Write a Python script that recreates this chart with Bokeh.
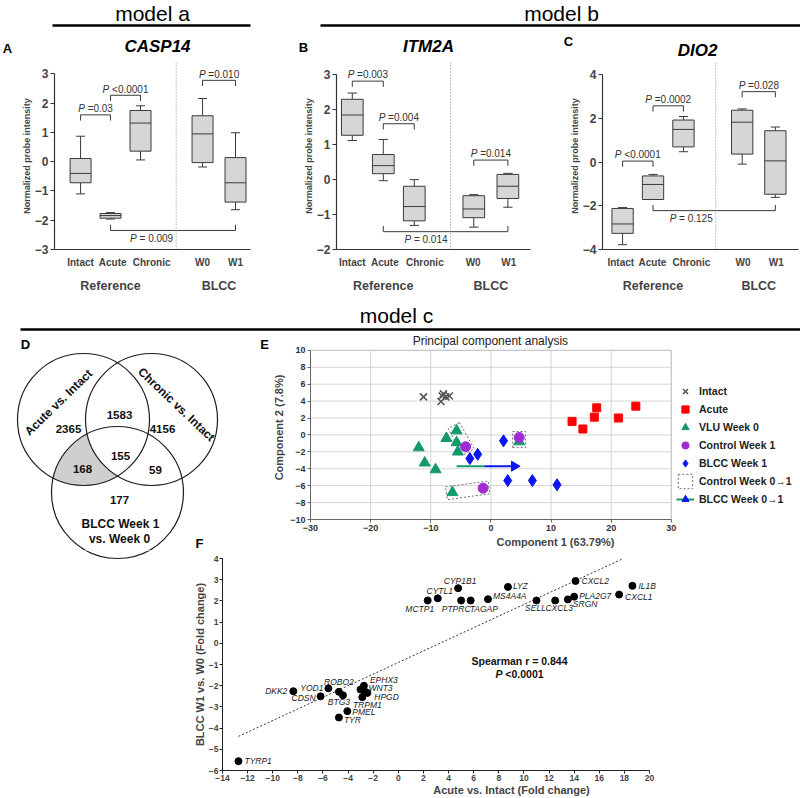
import numpy as np
from bokeh.plotting import figure
from bokeh.models import (Range1d, FixedTicker, LinearAxis, Label, Legend, LegendItem,
                          Span, ColumnDataSource)
from bokeh.layouts import column, row
from bokeh.transform import dodge
from bokeh.core.properties import value
from bokeh.embed import file_html
from bokeh.resources import INLINE

# ======================= DATA =======================
GROUPS = ["Intact", "Acute", "Chronic", "W0", "W1"]
GROUP_SETS = ["Reference", "BLCC"]

# box plot statistics: whisker low, Q1, median, Q3, whisker high
CASP14_LO = [-1.10, -1.96, 0.06, -0.18, -1.64]
CASP14_Q1 = [-0.72, -1.93, 0.36, -0.03, -1.38]
CASP14_MED = [-0.40, -1.84, 1.32, 0.95, -0.72]
CASP14_Q3 = [0.11, -1.77, 1.75, 1.57, 0.14]
CASP14_HI = [0.87, -1.74, 1.91, 2.16, 0.99]
CASP14_P_PAIRS = [(0, 1), (1, 2), (3, 4), (1, 4)]
CASP14_P_TEXT = ["=0.03", "<0.0001", "=0.010", "= 0.009"]
CASP14_P_LEVEL = [1.60, 2.27, 2.78, -2.35]

ITM2A_LO = [1.12, -0.03, -1.31, -1.36, -0.79]
ITM2A_Q1 = [1.27, 0.17, -1.18, -1.09, -0.54]
ITM2A_MED = [1.85, 0.40, -0.77, -0.84, -0.19]
ITM2A_Q3 = [2.30, 0.72, -0.19, -0.46, 0.15]
ITM2A_HI = [2.48, 1.15, 0.00, -0.43, 0.18]
ITM2A_P_PAIRS = [(0, 1), (1, 2), (3, 4), (1, 4)]
ITM2A_P_TEXT = ["=0.003", "=0.004", "=0.014", "= 0.014"]
ITM2A_P_LEVEL = [2.82, 1.60, 0.56, -1.49]

DIO2_LO = [-3.78, -1.71, 0.48, -0.09, -1.61]
DIO2_Q1 = [-3.26, -1.71, 0.70, 0.37, -1.47]
DIO2_MED = [-2.83, -1.02, 1.50, 1.83, 0.06]
DIO2_Q3 = [-2.12, -0.63, 1.93, 2.38, 1.44]
DIO2_HI = [-2.08, -0.56, 2.09, 2.44, 1.61]
DIO2_P_PAIRS = [(0, 1), (1, 2), (3, 4), (1, 4)]
DIO2_P_TEXT = ["<0.0001", "=0.0002", "=0.028", "= 0.125"]
DIO2_P_LEVEL = [0.05, 2.58, 3.23, -2.22]

# Venn counts
VENN_SETS = ["Acute vs. Intact", "Chronic vs. Intact", "BLCC Week 1", "vs. Week 0"]
VENN_REGIONS = ["A", "AC", "C", "ACB", "AB", "CB", "B"]
VENN_COUNTS = [2365, 1583, 4156, 155, 168, 59, 177]

# PCA
INTACT_PC1 = [-11.2, -8.1, -7.5, -6.9, -8.3, -7.9]
INTACT_PC2 = [4.5, 4.6, 4.5, 4.6, 3.95, 4.85]
ACUTE_PC1 = [13.5, 15.3, 17.2, 17.6, 21.2, 24.1]
ACUTE_PC2 = [1.6, 0.7, 2.1, 3.2, 2.0, 3.4]
VLU_PC1 = [-12.0, -11.0, -9.2, -7.4, -5.7, -5.7, -5.5, 4.7, -6.4]
VLU_PC2 = [-1.5, -3.3, -4.1, -0.4, 0.5, -0.9, -2.0, -0.8, -6.8]
CTRL_PC1 = [-4.2, 4.7, -1.3]
CTRL_PC2 = [-1.4, -0.3, -6.3]
BLCC_PC1 = [-3.5, -2.2, 2.1, 2.8, 6.9, 11.0]
BLCC_PC2 = [-2.8, -2.3, -0.7, -5.4, -5.4, -5.9]
CTRL_PAIRS = [(4, 0), (7, 1), (8, 2)]          # (VLU index, Control index)
BLCC_SHIFT_X = [-5.7, -1.1, 3.9]               # start, colour change, head
BLCC_SHIFT_Y = -3.7
PCA_XTICKS = [-30, -20, -10, 0, 10, 20, 30]
PCA_YTICKS = [-10, -8, -6, -4, -2, 0, 2, 4, 6, 8, 10]

# Fold-change correlation
GENES = ["TYRP1", "DKK2", "CDSN", "YOD1", "ROBO2", "BTG3", "PMEL", "TYR", "EPHX3", "WNT3",
         "HPGD", "TRPM1", "", "MCTP1", "CYTL1", "CYP1B1", "PTPRC", "TAGAP", "MS4A4A", "LYZ",
         "SELL", "CXCL3", "SRGN", "PLA2G7", "CXCL2", "CXCL1", "IL1B"]
FC_ACUTE = [-12.73, -8.36, -6.19, -5.57, -4.73, -4.41, -4.06, -4.73, -2.74, -3.01,
            -2.47, -2.87, -2.69, 2.34, 3.14, 4.76, 5.0, 5.76, 7.14, 8.73,
            11.0, 12.49, 13.5, 14.0, 14.11, 17.58, 18.64]
FC_BLCC = [-5.56, -2.26, -2.50, -2.12, -2.29, -2.45, -3.20, -3.50, -2.00, -2.18,
           -2.34, -2.54, -2.26, 2.02, 2.12, 2.60, 2.02, 2.02, 2.08, 2.66,
           2.02, 2.02, 2.07, 2.20, 2.94, 2.30, 2.71]
FIT_X = [-12.73, 17.92]
FIT_Y = [-4.39, 4.00]
SPEARMAN_TEXT = "Spearman r = 0.844"
SPEARMAN_P = "<0.0001"

# ======================= STYLE / LAYOUT =======================
FONT = "Liberation Sans"
BOX_FILL = "#d6d6d6"
EDGE = "#3a3a3a"
AXC = "#333333"
GREEN = "#139a6c"
BLUE = "#0b16ee"
PURPLE = "#a22bd8"
SCALE = 1.0


def S(v):
    return int(v * SCALE + 0.5)


CW = {'0': .556, '1': .556, '2': .556, '3': .556, '4': .556, '5': .556, '6': .556, '7': .556,
      '8': .556, '9': .556, '.': .278, ' ': .278, '=': .584, '<': .584, 'P': .667}


def tw(s, size):
    return sum(CW.get(c, .556) for c in s) * size


def noalign(p):
    try:
        p.frame_align = False
    except Exception:
        pass
    return p


def blank(x0, x1, y0, y1):
    p = figure(width=S(x1) - S(x0), height=S(y1) - S(y0), x_range=Range1d(x0, x1),
               y_range=Range1d(y1, y0), x_axis_type=None, y_axis_type=None,
               output_backend="svg", toolbar_location=None, min_border=0)
    p.outline_line_color = None
    return noalign(p)


def axes_fig(fig_box, frame_box, data_box, xr, yr):
    """fig_box / frame_box / data_box in reference pixels (x0, x1, y0, y1)."""
    fx0, fx1, fy0, fy1 = fig_box
    rx0, rx1, ry0, ry1 = frame_box
    dx0, dx1, dy0, dy1 = data_box
    ppx = (S(dx1) - S(dx0)) / (xr[1] - xr[0])
    ppy = (S(dy1) - S(dy0)) / (yr[1] - yr[0])
    xs = xr[0] - (S(dx0) - S(rx0)) / ppx
    xe = xr[1] + (S(rx1) - S(dx1)) / ppx
    ye = yr[1] + (S(dy0) - S(ry0)) / ppy
    ys = yr[0] - (S(ry1) - S(dy1)) / ppy
    p = figure(width=S(fx1) - S(fx0), height=S(fy1) - S(fy0),
               x_range=Range1d(xs, xe), y_range=Range1d(ys, ye),
               output_backend="svg", toolbar_location=None,
               min_border_left=S(rx0) - S(fx0), min_border_right=S(fx1) - S(rx1),
               min_border_top=S(ry0) - S(fy0), min_border_bottom=S(fy1) - S(ry1))
    p.outline_line_color = None
    noalign(p)

    def ref2data(rx, ry):
        return (xr[0] + (S(rx) - S(dx0)) / ppx, yr[1] - (S(ry) - S(dy0)) / ppy)
    return p, ppx, ppy, ref2data


def txt(p, x, y, s, size, style="normal", align="center", angle=0.0, color="black"):
    p.text(x=[x], y=[y], text=[s], text_font=value(FONT), text_font_size=value(size),
           text_font_style=value(style), text_align=value(align), text_baseline=value("middle"),
           angle=angle, text_color=color)


def lab(p, x, y, s, size, style="normal", align="left", xoff=0, color="black"):
    p.add_layout(Label(x=x, y=y, text=s, text_font=FONT, text_font_size=size,
                       text_font_style=style, text_align=align, text_baseline="middle",
                       x_offset=xoff, text_color=color))


# ---------------- header row (model a / model b) ----------------
hdr = blank(0, 800, 0, 62)
txt(hdr, 152, 13, "model a", "21px")
txt(hdr, 561, 13, "model b", "21px")
hdr.segment(x0=[52, 320], y0=[25, 25], x1=[250, 800], y1=[25, 25], line_width=2.5, line_color="black")
for (lx, ly, L) in [(7, 48, "A"), (303, 47, "B"), (568, 41, "C")]:
    txt(hdr, lx, ly, L, "13px", "bold")
for (gx, gy, G) in [(157, 46, "CASP14"), (428, 46, "ITM2A"), (697, 50, "DIO2")]:
    txt(hdr, gx, gy, G, "17px", "bold italic")

# ---------------- box plot panels ----------------
ROW2 = (62, 295)


def box_panel(fig_x, frame, xr, yr, pos, label_x, sep, yticks, lo, q1, med, q3, hi,
              pairs, ptext, plevel):
    x0, x1, y0, y1 = frame
    p, ppx, ppu, _ = axes_fig((fig_x[0], fig_x[1], ROW2[0], ROW2[1]), (x0, x1, ROW2[0], y1),
                              (x0, x1, y0, y1), xr, yr)
    p.grid.visible = False

    p.add_layout(Span(location=sep, dimension="height", line_color="#888888",
                      line_dash="1 2", line_width=1))

    src = ColumnDataSource(dict(x=pos, lo=lo, q1=q1, med=med, q3=q3, hi=hi))
    p.segment(x0="x", y0="lo", x1="x", y1="q1", source=src, line_color=EDGE)
    p.segment(x0="x", y0="q3", x1="x", y1="hi", source=src, line_color=EDGE)
    p.segment(x0=dodge("x", -0.15), y0="lo", x1=dodge("x", 0.15), y1="lo", source=src, line_color=EDGE)
    p.segment(x0=dodge("x", -0.15), y0="hi", x1=dodge("x", 0.15), y1="hi", source=src, line_color=EDGE)
    p.vbar(x="x", width=0.7, bottom="q1", top="q3", source=src, fill_color=BOX_FILL, line_color=EDGE)
    p.segment(x0=dodge("x", -0.35), y0="med", x1=dodge("x", 0.35), y1="med", source=src, line_color=EDGE)

    tick = 6 / ppu
    xs, ys = [], []
    for (i, j), t, lev in zip(pairs, ptext, plevel):
        below = lev < min(lo[i:j + 1])
        d = tick if below else -tick
        xs.append([pos[i], pos[i], pos[j], pos[j]])
        ys.append([lev + d, lev, lev, lev + d])
        fs = 10
        wP = tw("P", fs) + tw(" ", fs)
        wtot = wP + tw(t, fs)
        if below:
            ty = lev - 8 / ppu
            cx = sep
            start = -3 - wtot
        else:
            ty = lev + 6.5 / ppu
            cx = (pos[i] + pos[j]) / 2
            start = -wtot / 2
        lab(p, cx, ty, "P", "10px", "italic", "left", start, "#333333")
        lab(p, cx, ty, t, "10px", "normal", "left", start + wP, "#333333")
    p.multi_line(xs=xs, ys=ys, line_color=EDGE, line_width=1)

    p.yaxis.ticker = FixedTicker(ticks=yticks)
    p.yaxis.bounds = (yr[0], yr[1])
    p.yaxis.axis_label = "Normalized probe intensity"
    p.yaxis.axis_label_text_font = FONT
    p.yaxis.axis_label_text_font_size = "9px"
    p.yaxis.axis_label_text_font_style = "bold"
    p.yaxis.axis_label_standoff = 0
    p.yaxis.major_label_text_font = FONT
    p.yaxis.major_label_text_font_size = "12px"
    p.yaxis.major_label_text_font_style = "bold"
    p.yaxis.major_label_standoff = 2
    p.yaxis.major_tick_out = 4
    p.yaxis.major_tick_in = 0
    p.yaxis.minor_tick_line_color = None
    p.yaxis.axis_line_color = AXC
    p.yaxis.axis_line_width = 1.2
    p.yaxis.major_tick_line_color = AXC

    p.xaxis.ticker = FixedTicker(ticks=label_x)
    p.xaxis.major_label_overrides = {label_x[k]: GROUPS[k] for k in range(len(label_x))}
    p.xaxis.major_tick_line_color = None
    p.xaxis.minor_tick_line_color = None
    p.xaxis.major_tick_out = 0
    p.xaxis.axis_line_color = AXC
    p.xaxis.axis_line_width = 1.2
    p.xaxis.major_label_text_font = FONT
    p.xaxis.major_label_text_font_size = "10px"
    p.xaxis.major_label_text_font_style = "bold"
    p.xaxis.major_label_standoff = 7

    gpos = [pos[1], (pos[3] + pos[4]) / 2]
    ax2 = LinearAxis(ticker=FixedTicker(ticks=gpos),
                     major_label_overrides={gpos[k]: GROUP_SETS[k] for k in range(2)},
                     axis_line_color=None, major_tick_line_color=None, minor_tick_line_color=None,
                     major_label_text_font=FONT, major_label_text_font_size="12.5px",
                     major_label_text_font_style="bold", major_label_standoff=2)
    p.add_layout(ax2, "below")
    return p


pA = box_panel((0, 262), (54, 250, 74, 259), (0.13, 6.67), (-3, 3), [1, 2, 3, 5.07, 6.17],
               [1.0, 2.07, 3.37, 5.07, 6.17], 4.19,
               [-3, -2, -1, 0, 1, 2, 3], CASP14_LO, CASP14_Q1, CASP14_MED, CASP14_Q3, CASP14_HI,
               CASP14_P_PAIRS, CASP14_P_TEXT, CASP14_P_LEVEL)
pB = box_panel((262, 535), (336, 530, 75, 259), (0.49, 6.75), (-2, 3), [1, 2, 3, 4.92, 6.02],
               [1.0, 2.05, 3.34, 4.90, 6.05], 4.17,
               [-2, -1, 0, 1, 2, 3], ITM2A_LO, ITM2A_Q1, ITM2A_MED, ITM2A_Q3, ITM2A_HI,
               ITM2A_P_PAIRS, ITM2A_P_TEXT, ITM2A_P_LEVEL)
pC = box_panel((535, 800), (602, 798, 75, 259), (0.34, 6.78), (-4, 4), [1, 2, 3, 4.93, 6.02],
               [0.94, 1.98, 3.26, 4.96, 6.05], 4.06,
               [-4, -2, 0, 2, 4], DIO2_LO, DIO2_Q1, DIO2_MED, DIO2_Q3, DIO2_HI,
               DIO2_P_PAIRS, DIO2_P_TEXT, DIO2_P_LEVEL)

# ---------------- header model c ----------------
hdr2 = blank(0, 800, 295, 335)
txt(hdr2, 396, 315, "model c", "21px")
hdr2.segment(x0=[20], y0=[329], x1=[800], y1=[329], line_width=2.5, line_color="black")

# ---------------- Venn (D) ----------------
VC = [(83, 419, 66), (151, 419, 66), (117, 492, 66)]   # geometry: Acute, Chronic, BLCC circles
VENN_POS = {"A": (68, 428), "AC": (119, 414), "C": (162, 428), "ACB": (120, 455),
            "AB": (82, 468), "CB": (155, 469), "B": (119, 499)}


def region_polygon(inside, outside):
    t = np.linspace(0, 2 * np.pi, 1440, endpoint=False)
    pts = []
    for (cx, cy, r) in inside + outside:
        px, py = cx + r * np.cos(t), cy + r * np.sin(t)
        ok = np.ones_like(t, dtype=bool)
        for (ax, ay, ar) in inside:
            if (ax, ay, ar) != (cx, cy, r):
                ok &= (px - ax) ** 2 + (py - ay) ** 2 <= ar ** 2
        for (ax, ay, ar) in outside:
            if (ax, ay, ar) != (cx, cy, r):
                ok &= (px - ax) ** 2 + (py - ay) ** 2 >= ar ** 2
        pts.append(np.c_[px[ok], py[ok]])
    pts = np.vstack(pts)
    c = pts.mean(axis=0)
    order = np.argsort(np.arctan2(pts[:, 1] - c[1], pts[:, 0] - c[0]))
    return list(pts[order, 0]), list(pts[order, 1])


def draw_venn(p, with_text=True):
    gx, gy = region_polygon([VC[0], VC[2]], [VC[1]])
    p.patch(gx, gy, fill_color="#cfcfcf", line_color=None)
    p.circle(x=[c[0] for c in VC], y=[c[1] for c in VC], radius=VC[0][2],
             fill_color=None, line_color="#1e1e1e", line_width=1.2)
    if not with_text:
        return
    for reg, n in zip(VENN_REGIONS, VENN_COUNTS):
        x, y = VENN_POS[reg]
        txt(p, x, y, str(n), "11.5px", "bold", color="#111111")
    txt(p, 58, 402, VENN_SETS[0], "12px", "bold", angle=0.77, color="#111111")
    txt(p, 176, 404, VENN_SETS[1], "12px", "bold", angle=-0.76, color="#111111")
    txt(p, 120, 523, VENN_SETS[2], "12px", "bold", color="#111111")
    txt(p, 119, 538, VENN_SETS[3], "12px", "bold", color="#111111")


ROW4 = (335, 550)
ROW5 = (550, 798)
pD = blank(0, 270, *ROW4)
draw_venn(pD)
txt(pD, 25, 344, "D", "13px", "bold")
txt(pD, 264, 344, "E", "13px", "bold")
txt(pD, 199, 543, "F", "13px", "bold")
pD2 = blank(0, 188, *ROW5)
draw_venn(pD2, with_text=False)

# ---------------- PCA (E) ----------------
pE, eppx, eppy, eE = axes_fig((270, 800, ROW4[0], ROW4[1]), (307, 800, ROW4[0], 521),
                              (307, 670, 350, 521), (-30, 30), (-10, 10))
pE.grid.visible = False
pE.xaxis.ticker = FixedTicker(ticks=PCA_XTICKS)
pE.yaxis.ticker = FixedTicker(ticks=PCA_YTICKS)
pE.xaxis.bounds = (PCA_XTICKS[0], PCA_XTICKS[-1])
pE.yaxis.bounds = (PCA_YTICKS[0], PCA_YTICKS[-1])
for ax in (pE.xaxis, pE.yaxis):
    ax.major_label_text_font = FONT
    ax.major_label_text_font_size = "9px"
    ax.major_label_text_font_style = "bold"
    ax.major_label_text_color = "#333333"
    ax.axis_label_text_font = FONT
    ax.axis_label_text_font_size = "11px"
    ax.axis_label_text_font_style = "bold"
    ax.major_tick_out = 3
    ax.major_tick_in = 0
    ax.minor_tick_line_color = None
    ax.axis_line_color = "#666666"
    ax.major_tick_line_color = "#666666"
    ax.major_label_standoff = 2
    ax.axis_label_standoff = 2
pE.xaxis.axis_label = "Component 1 (63.79%)"
pE.yaxis.axis_label = "Component 2 (7.8%)"

# grid lines and plot box limited to the data area
gx0, gx1, gy0, gy1 = PCA_XTICKS[0], PCA_XTICKS[-1], PCA_YTICKS[0], PCA_YTICKS[-1]
pE.segment(x0=PCA_XTICKS, y0=[gy0] * len(PCA_XTICKS), x1=PCA_XTICKS, y1=[gy1] * len(PCA_XTICKS),
           line_color="#d4d4d4", line_width=1)
pE.segment(x0=[gx0] * len(PCA_YTICKS), y0=PCA_YTICKS, x1=[gx1] * len(PCA_YTICKS), y1=PCA_YTICKS,
           line_color="#d4d4d4", line_width=1)
pE.quad(left=[gx0], right=[gx1], bottom=[gy0], top=[gy1], fill_color=None, line_color="#c4c4c4")

# dashed boxes around Control W0 -> W1 pairs (computed from the point pairs)
bxs, bys = [], []
for vi, ci in CTRL_PAIRS:
    a = np.array([VLU_PC1[vi] * eppx, VLU_PC2[vi] * eppy])
    b = np.array([CTRL_PC1[ci] * eppx, CTRL_PC2[ci] * eppy])
    d = b - a
    u = d / np.linalg.norm(d)
    n = np.array([-u[1], u[0]])
    pa, pc = 6.0, 6.5
    corners = [a - u * pa + n * pc, b + u * pa + n * pc, b + u * pa - n * pc, a - u * pa - n * pc]
    bxs.append([c[0] / eppx for c in corners])
    bys.append([c[1] / eppy for c in corners])
r_box = pE.patches(bxs, bys, fill_color=None, line_color="#707070", line_dash="2 2", line_width=1)

r_int = pE.scatter(INTACT_PC1, INTACT_PC2, marker="x", size=10, line_color="#555555", line_width=1.6)
r_acu = pE.scatter(ACUTE_PC1, ACUTE_PC2, marker="square", size=8, fill_color="#ff0000", line_color="#ff0000")
r_vlu = pE.scatter(VLU_PC1, VLU_PC2, marker="triangle", size=11, fill_color=GREEN, line_color=GREEN)
r_ctl = pE.scatter(CTRL_PC1, CTRL_PC2, marker="circle", size=10, fill_color=PURPLE, line_color=PURPLE)
r_blc = pE.scatter(BLCC_PC1, BLCC_PC2, marker="diamond", size=12, fill_color=BLUE, line_color=BLUE)
r_ag = pE.segment(x0=[BLCC_SHIFT_X[0]], y0=[BLCC_SHIFT_Y], x1=[BLCC_SHIFT_X[1]], y1=[BLCC_SHIFT_Y],
                  line_color=GREEN, line_width=2)
r_ab = pE.segment(x0=[BLCC_SHIFT_X[1]], y0=[BLCC_SHIFT_Y], x1=[BLCC_SHIFT_X[2]], y1=[BLCC_SHIFT_Y],
                  line_color=BLUE, line_width=2)
r_ah = pE.scatter([BLCC_SHIFT_X[2]], [BLCC_SHIFT_Y], marker="triangle", angle=-np.pi / 2, size=10,
                  fill_color=BLUE, line_color=BLUE)

legend = Legend(items=[
    LegendItem(label="Intact", renderers=[r_int]),
    LegendItem(label="Acute", renderers=[r_acu]),
    LegendItem(label="VLU Week 0", renderers=[r_vlu]),
    LegendItem(label="Control Week 1", renderers=[r_ctl]),
    LegendItem(label="BLCC Week 1", renderers=[r_blc]),
    LegendItem(label="Control Week 0\u21921", renderers=[r_box]),
    LegendItem(label="BLCC Week 0\u21921", renderers=[r_ag, r_ah]),
], location=(S(673) - S(307), S(521) - S(510)), label_text_font=FONT, label_text_font_size="10.5px",
    label_text_font_style="bold", label_text_color="#222222", glyph_width=18, glyph_height=18,
    label_height=18, spacing=-3, padding=2, margin=0, label_standoff=5, border_line_color=None,
    background_fill_alpha=0)
pE.add_layout(legend)

tx, ty = eE(488, 341)
txt(pE, tx, ty, "Principal component analysis", "12px", "normal", "center", 0, "#222222")

# ---------------- Fold change scatter (F) ----------------
pF, fppx, fppy, mF = axes_fig((188, 800, ROW5[0], ROW5[1]), (222, 800, 558, 772),
                              (222, 649, 558, 772), (-14, 20), (-6, 4))
pF.grid.visible = False
pF.xaxis.ticker = FixedTicker(ticks=list(range(-14, 21, 2)))
pF.yaxis.ticker = FixedTicker(ticks=list(range(-6, 5, 1)))
pF.xaxis.bounds = (-14, 20)
for ax in (pF.xaxis, pF.yaxis):
    ax.major_label_text_font = FONT
    ax.major_label_text_font_size = "8.5px"
    ax.major_label_text_font_style = "bold"
    ax.axis_label_text_font = FONT
    ax.axis_label_text_font_size = "11px"
    ax.axis_label_text_font_style = "bold"
    ax.major_tick_out = 3
    ax.major_tick_in = 0
    ax.minor_tick_line_color = None
    ax.axis_line_color = "#222222"
    ax.major_tick_line_color = "#222222"
    ax.major_label_standoff = 1
    ax.axis_label_standoff = 0
pF.xaxis.axis_label = "Acute vs. Intact (Fold change)"
pF.yaxis.axis_label = "BLCC W1 vs. W0 (Fold change)"

pF.line(FIT_X, FIT_Y, line_dash="2 2", line_color="#333333", line_width=1)
pF.scatter(FC_ACUTE, FC_BLCC, marker="circle", size=7, fill_color="black", line_color="black")

# label placement (dx px right, dy px up, alignment)
LABEL_POS = {"TYRP1": (6, 0, "left"), "DKK2": (-6, 0, "right"), "CDSN": (-5, -2, "right"),
             "YOD1": (-5, 0, "right"), "ROBO2": (0, 10, "center"), "BTG3": (-4, -7, "center"),
             "PMEL": (5, -1, "left"), "TYR": (5, -3, "left"), "EPHX3": (6, 6, "left"),
             "WNT3": (8, 2, "left"), "HPGD": (7, -4, "left"), "TRPM1": (5, -8, "center"),
             "MCTP1": (-8, -9, "center"), "CYTL1": (2, 7, "center"), "CYP1B1": (2, 7, "center"),
             "PTPRC": (-5, -9, "center"), "TAGAP": (-1, -9, "left"), "MS4A4A": (5, 3, "left"),
             "LYZ": (5, 1, "left"), "SELL": (-1, -8, "center"), "CXCL3": (4, -8, "center"),
             "SRGN": (5, -5, "left"), "PLA2G7": (5, 1, "left"), "CXCL2": (6, 0, "left"),
             "CXCL1": (6, -2, "left"), "IL1B": (6, 0, "left")}
for g, x, y in zip(GENES, FC_ACUTE, FC_BLCC):
    if not g:
        continue
    dx, dy, al = LABEL_POS[g]
    lab(pF, x, y + dy / fppy, g, "8.5px", "italic", al, dx, "#222222")

sx, sy = mF(519, 661)
lab(pF, sx, sy, SPEARMAN_TEXT, "10.5px", "bold", "center", 0, "#111111")
wP = tw("P", 10.5) + tw(" ", 10.5)
wtot = wP + tw(SPEARMAN_P, 10.5)
sx2, sy2 = mF(519, 675)
lab(pF, sx2, sy2, "P", "10.5px", "bold italic", "left", -wtot / 2, "#111111")
lab(pF, sx2, sy2, SPEARMAN_P, "10.5px", "bold", "left", -wtot / 2 + wP, "#111111")

layout = column(hdr, row(pA, pB, pC), hdr2, row(pD, pE), row(pD2, pF))
open("out.html", "w").write(file_html(layout, INLINE))
